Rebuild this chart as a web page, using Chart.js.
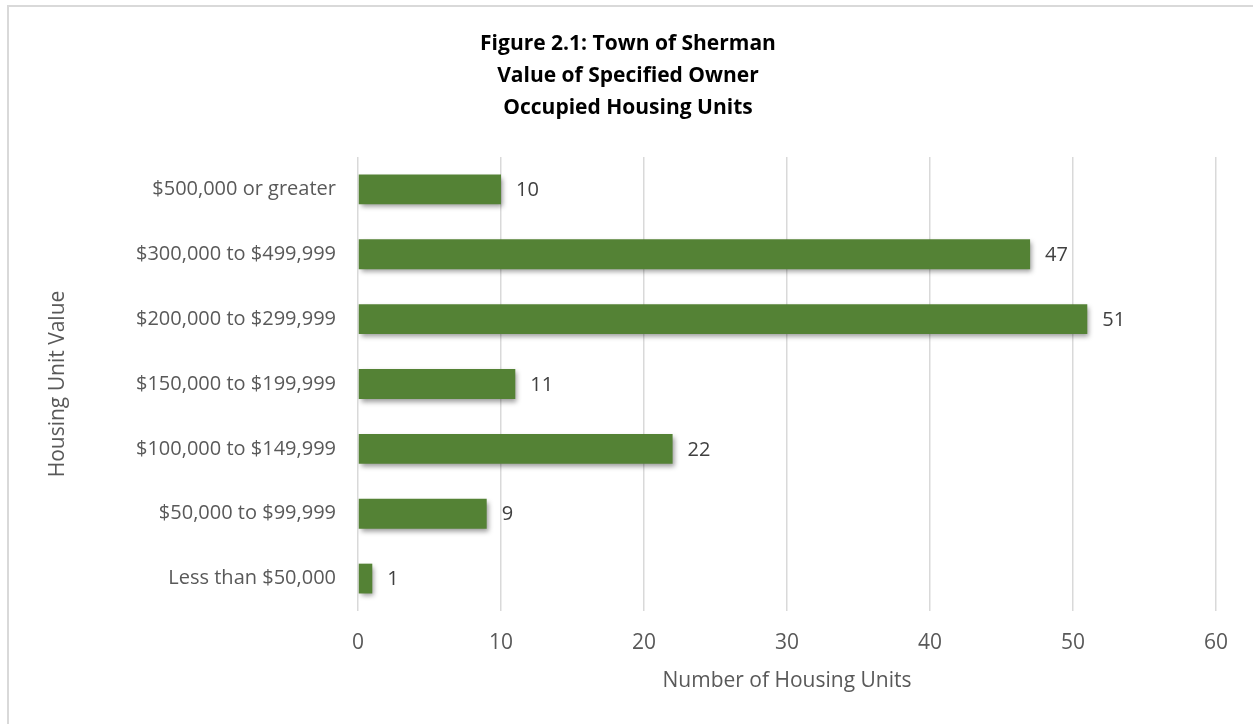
<!DOCTYPE html>
<html>
<head>
<meta charset="utf-8">
<script src="https://cdn.jsdelivr.net/npm/chart.js@4/dist/chart.umd.min.js"></script>
<style>
  html, body { margin: 0; padding: 0; background: #fff; overflow: hidden; }
  #frame { position: absolute; left: 7px; top: 5px; width: 1400px; height: 900px; border: 2px solid #d9d9d9; box-sizing: border-box; }
  #wrap { position: absolute; left: 0; top: 0; width: 1253px; height: 724px; }
</style>
</head>
<body>
<div id="frame"></div>
<div id="wrap"><canvas id="c" width="1253" height="724"></canvas></div>
<script>
const titleLines = ["Figure 2.1: Town of Sherman", "Value of Specified Owner", "Occupied Housing Units"];
const categories = ["$500,000 or greater", "$300,000 to $499,999", "$200,000 to $299,999", "$150,000 to $199,999", "$100,000 to $149,999", "$50,000 to $99,999", "Less than $50,000"];
const units = [10, 47, 51, 11, 22, 9, 1];
const xTicks = [0, 10, 20, 30, 40, 50, 60];
const xTitle = "Number of Housing Units";
const yTitle = "Housing Unit Value";

const FONT = "'Open Sans', Lato, sans-serif";

const shadowPlugin = {
  id: 'barShadow',
  beforeDatasetDraw(chart) {
    const ctx = chart.ctx;
    ctx.save();
    ctx.shadowColor = 'rgba(0,0,0,0.4)';
    ctx.shadowBlur = 5;
    ctx.shadowOffsetX = 2;
    ctx.shadowOffsetY = 3;
  },
  afterDatasetDraw(chart) {
    chart.ctx.restore();
  }
};

const labelPlugin = {
  id: 'valueLabels',
  afterDatasetsDraw(chart) {
    const ctx = chart.ctx;
    const meta = chart.getDatasetMeta(0);
    ctx.save();
    ctx.font = "20px " + FONT;
    ctx.fillStyle = '#404040';
    ctx.textAlign = 'left';
    ctx.textBaseline = 'middle';
    meta.data.forEach((bar, i) => {
      ctx.fillText(String(chart.data.datasets[0].data[i]), bar.x + 15, bar.y + 1);
    });
    ctx.restore();
  }
};

new Chart(document.getElementById('c'), {
  type: 'bar',
  data: {
    labels: categories,
    datasets: [{
      data: units,
      backgroundColor: '#548235',
      borderWidth: 0,
      barPercentage: 0.46,
      categoryPercentage: 1.0
    }]
  },
  options: {
    indexAxis: 'y',
    responsive: false,
    animation: false,
    layout: { padding: { top: 0, left: 40, right: 37, bottom: 18 } },
    plugins: {
      legend: { display: false },
      tooltip: { enabled: false },
      title: {
        display: true,
        text: titleLines,
        color: '#000000',
        font: { family: FONT, size: 21, weight: 'bold', lineHeight: '32px' },
        padding: { top: 28, bottom: 33 }
      }
    },
    scales: {
      x: {
        min: 0, max: 60,
        afterBuildTicks(scale) { scale.ticks = xTicks.map(v => ({ value: v })); },
        afterFit(scale) { scale.height = 724 - 18 - 611; },
        grid: { color: '#d9d9d9', lineWidth: 1.5, drawTicks: false },
        border: { display: false },
        ticks: { color: '#595959', font: { family: FONT, size: 21 }, padding: 19 },
        title: { display: true, text: xTitle, color: '#595959', font: { family: FONT, size: 21 }, padding: { top: 4, bottom: 12 } }
      },
      y: {
        afterFit(scale) { scale.width = 358 - 40; },
        grid: { display: false, drawTicks: false },
        border: { display: false },
        ticks: { color: '#595959', font: { family: FONT, size: 20 }, padding: 22 },
        title: { display: true, text: yTitle, color: '#595959', font: { family: FONT, size: 21 }, padding: { top: 5, bottom: 0 } }
      }
    }
  },
  plugins: [shadowPlugin, labelPlugin]
});
</script>
</body>
</html>
